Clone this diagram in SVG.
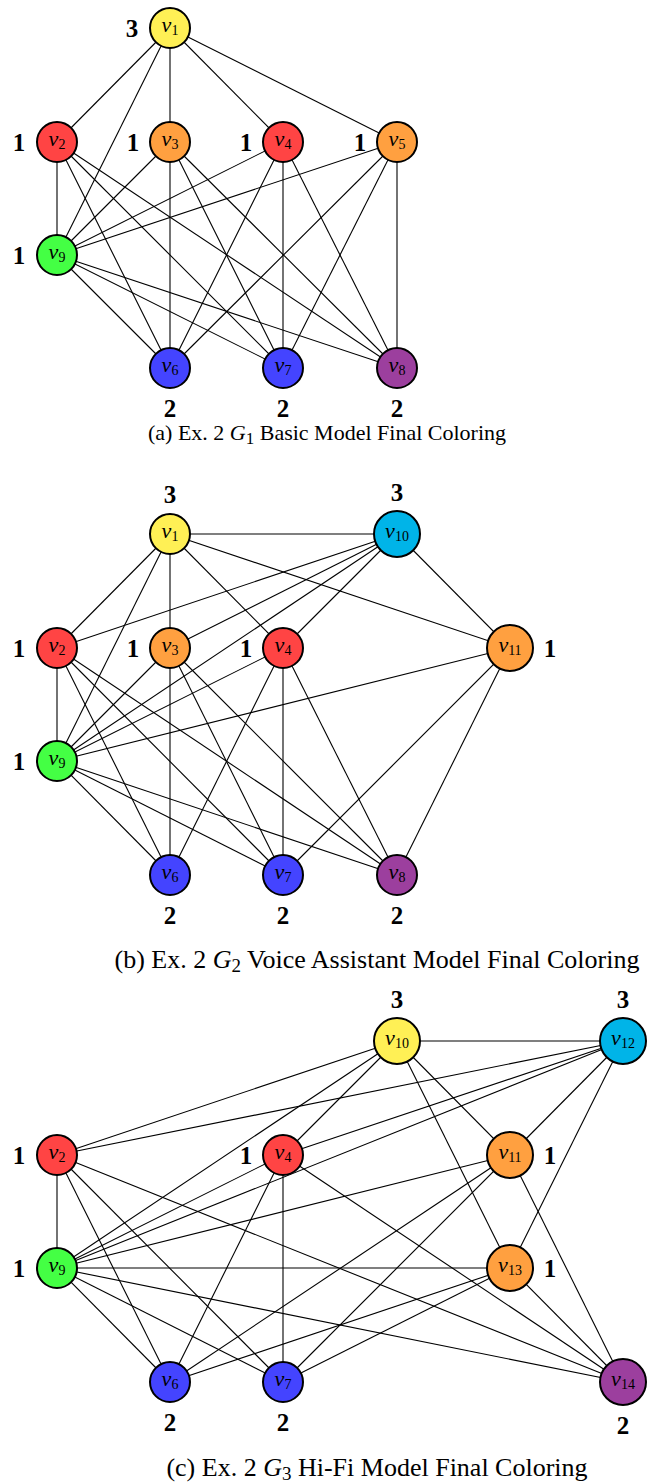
<svg xmlns="http://www.w3.org/2000/svg" width="654" height="1483" viewBox="0 0 654 1483">
<style>
text{font-family:'Liberation Serif','Times New Roman',Tinos,Times,serif}
.e{stroke:#000;stroke-width:1.1;fill:none}
.n{stroke:#000;stroke-width:2}
.nl{font-size:22px;text-anchor:middle;fill:#000}
.v{font-style:italic}
.s{font-size:14px}
.num{font-size:25px;font-weight:bold;text-anchor:middle;fill:#000}
.cap{font-size:22px;text-anchor:middle;fill:#000}
.cap2{font-size:26px;text-anchor:middle;fill:#000}
.cs{font-size:17px}
.cs2{font-size:19px}
.yel{fill:#FFF055}.red{fill:#FF4444}.ora{fill:#FFA040}.grn{fill:#44FF44}.blu{fill:#4444FF}.pur{fill:#9C3F9E}.cya{fill:#00B4E8}
</style>
<rect width="654" height="1483" fill="#fff"/>
<g id="edges-a">
<line class="e" x1="170" y1="28" x2="57" y2="142"/>
<line class="e" x1="170" y1="28" x2="57" y2="255"/>
<line class="e" x1="170" y1="28" x2="170" y2="142"/>
<line class="e" x1="170" y1="28" x2="283" y2="142"/>
<line class="e" x1="170" y1="28" x2="397" y2="142"/>
<line class="e" x1="57" y1="142" x2="57" y2="255"/>
<line class="e" x1="57" y1="142" x2="170" y2="368"/>
<line class="e" x1="57" y1="142" x2="283" y2="368"/>
<line class="e" x1="57" y1="142" x2="397" y2="368"/>
<line class="e" x1="170" y1="142" x2="57" y2="255"/>
<line class="e" x1="170" y1="142" x2="170" y2="368"/>
<line class="e" x1="170" y1="142" x2="283" y2="368"/>
<line class="e" x1="170" y1="142" x2="397" y2="368"/>
<line class="e" x1="283" y1="142" x2="57" y2="255"/>
<line class="e" x1="283" y1="142" x2="170" y2="368"/>
<line class="e" x1="283" y1="142" x2="283" y2="368"/>
<line class="e" x1="283" y1="142" x2="397" y2="368"/>
<line class="e" x1="397" y1="142" x2="57" y2="255"/>
<line class="e" x1="397" y1="142" x2="170" y2="368"/>
<line class="e" x1="397" y1="142" x2="283" y2="368"/>
<line class="e" x1="397" y1="142" x2="397" y2="368"/>
<line class="e" x1="57" y1="255" x2="170" y2="368"/>
<line class="e" x1="57" y1="255" x2="283" y2="368"/>
<line class="e" x1="57" y1="255" x2="397" y2="368"/>
</g>
<g id="a-v1"><circle class="n yel" cx="170" cy="28" r="20"/><text class="nl" x="170" y="32"><tspan class="v">v</tspan><tspan class="s" dy="3">1</tspan></text><text class="num" x="132" y="37">3</text></g>
<g id="a-v2"><circle class="n red" cx="57" cy="142" r="20"/><text class="nl" x="57" y="146"><tspan class="v">v</tspan><tspan class="s" dy="3">2</tspan></text><text class="num" x="19" y="151">1</text></g>
<g id="a-v3"><circle class="n ora" cx="170" cy="142" r="20"/><text class="nl" x="170" y="146"><tspan class="v">v</tspan><tspan class="s" dy="3">3</tspan></text><text class="num" x="133" y="151">1</text></g>
<g id="a-v4"><circle class="n red" cx="283" cy="142" r="20"/><text class="nl" x="283" y="146"><tspan class="v">v</tspan><tspan class="s" dy="3">4</tspan></text><text class="num" x="246" y="151">1</text></g>
<g id="a-v5"><circle class="n ora" cx="397" cy="142" r="20"/><text class="nl" x="397" y="146"><tspan class="v">v</tspan><tspan class="s" dy="3">5</tspan></text><text class="num" x="360" y="151">1</text></g>
<g id="a-v9"><circle class="n grn" cx="57" cy="255" r="20"/><text class="nl" x="57" y="259"><tspan class="v">v</tspan><tspan class="s" dy="3">9</tspan></text><text class="num" x="19" y="264">1</text></g>
<g id="a-v6"><circle class="n blu" cx="170" cy="368" r="20"/><text class="nl" x="170" y="372"><tspan class="v">v</tspan><tspan class="s" dy="3">6</tspan></text><text class="num" x="170" y="417">2</text></g>
<g id="a-v7"><circle class="n blu" cx="283" cy="368" r="20"/><text class="nl" x="283" y="372"><tspan class="v">v</tspan><tspan class="s" dy="3">7</tspan></text><text class="num" x="283" y="417">2</text></g>
<g id="a-v8"><circle class="n pur" cx="397" cy="368" r="20"/><text class="nl" x="397" y="372"><tspan class="v">v</tspan><tspan class="s" dy="3">8</tspan></text><text class="num" x="397" y="417">2</text></g>
<text class="cap" x="327" y="440">(a) Ex. 2 <tspan class="v">G</tspan><tspan class="cs" dy="4">1</tspan><tspan dy="-4"> Basic Model Final Coloring</tspan></text>

<g id="edges-b">
<line class="e" x1="170" y1="534" x2="397" y2="534"/>
<line class="e" x1="170" y1="534" x2="57" y2="648"/>
<line class="e" x1="170" y1="534" x2="57" y2="761"/>
<line class="e" x1="170" y1="534" x2="170" y2="648"/>
<line class="e" x1="170" y1="534" x2="283" y2="648"/>
<line class="e" x1="170" y1="534" x2="510" y2="648"/>
<line class="e" x1="397" y1="534" x2="57" y2="648"/>
<line class="e" x1="397" y1="534" x2="170" y2="648"/>
<line class="e" x1="397" y1="534" x2="57" y2="761"/>
<line class="e" x1="397" y1="534" x2="283" y2="648"/>
<line class="e" x1="397" y1="534" x2="510" y2="648"/>
<line class="e" x1="510" y1="648" x2="57" y2="761"/>
<line class="e" x1="510" y1="648" x2="283" y2="875"/>
<line class="e" x1="510" y1="648" x2="397" y2="875"/>
<line class="e" x1="57" y1="648" x2="57" y2="761"/>
<line class="e" x1="57" y1="648" x2="170" y2="875"/>
<line class="e" x1="57" y1="648" x2="283" y2="875"/>
<line class="e" x1="57" y1="648" x2="397" y2="875"/>
<line class="e" x1="170" y1="648" x2="57" y2="761"/>
<line class="e" x1="170" y1="648" x2="170" y2="875"/>
<line class="e" x1="170" y1="648" x2="283" y2="875"/>
<line class="e" x1="170" y1="648" x2="397" y2="875"/>
<line class="e" x1="283" y1="648" x2="57" y2="761"/>
<line class="e" x1="283" y1="648" x2="170" y2="875"/>
<line class="e" x1="283" y1="648" x2="283" y2="875"/>
<line class="e" x1="283" y1="648" x2="397" y2="875"/>
<line class="e" x1="57" y1="761" x2="170" y2="875"/>
<line class="e" x1="57" y1="761" x2="283" y2="875"/>
<line class="e" x1="57" y1="761" x2="397" y2="875"/>
</g>
<g id="b-v1"><circle class="n yel" cx="170" cy="534" r="20"/><text class="nl" x="170" y="538"><tspan class="v">v</tspan><tspan class="s" dy="3">1</tspan></text><text class="num" x="170" y="503">3</text></g>
<g id="b-v10"><circle class="n cya" cx="397" cy="534" r="23"/><text class="nl" x="397" y="538"><tspan class="v">v</tspan><tspan class="s" dy="3">10</tspan></text><text class="num" x="397" y="501">3</text></g>
<g id="b-v2"><circle class="n red" cx="57" cy="648" r="20"/><text class="nl" x="57" y="652"><tspan class="v">v</tspan><tspan class="s" dy="3">2</tspan></text><text class="num" x="19" y="657">1</text></g>
<g id="b-v3"><circle class="n ora" cx="170" cy="648" r="20"/><text class="nl" x="170" y="652"><tspan class="v">v</tspan><tspan class="s" dy="3">3</tspan></text><text class="num" x="133" y="657">1</text></g>
<g id="b-v4"><circle class="n red" cx="283" cy="648" r="20"/><text class="nl" x="283" y="652"><tspan class="v">v</tspan><tspan class="s" dy="3">4</tspan></text><text class="num" x="246" y="657">1</text></g>
<g id="b-v11"><circle class="n ora" cx="510" cy="648" r="23"/><text class="nl" x="510" y="652"><tspan class="v">v</tspan><tspan class="s" dy="3">11</tspan></text><text class="num" x="550" y="657">1</text></g>
<g id="b-v9"><circle class="n grn" cx="57" cy="761" r="20"/><text class="nl" x="57" y="765"><tspan class="v">v</tspan><tspan class="s" dy="3">9</tspan></text><text class="num" x="19" y="770">1</text></g>
<g id="b-v6"><circle class="n blu" cx="170" cy="875" r="20"/><text class="nl" x="170" y="879"><tspan class="v">v</tspan><tspan class="s" dy="3">6</tspan></text><text class="num" x="170" y="924">2</text></g>
<g id="b-v7"><circle class="n blu" cx="283" cy="875" r="20"/><text class="nl" x="283" y="879"><tspan class="v">v</tspan><tspan class="s" dy="3">7</tspan></text><text class="num" x="283" y="924">2</text></g>
<g id="b-v8"><circle class="n pur" cx="397" cy="875" r="20"/><text class="nl" x="397" y="879"><tspan class="v">v</tspan><tspan class="s" dy="3">8</tspan></text><text class="num" x="397" y="924">2</text></g>
<text class="cap2" x="377" y="968">(b) Ex. 2 <tspan class="v">G</tspan><tspan class="cs2" dy="4">2</tspan><tspan dy="-4"> Voice Assistant Model Final Coloring</tspan></text>

<g id="edges-c">
<line class="e" x1="397" y1="1041" x2="623" y2="1041"/>
<line class="e" x1="397" y1="1041" x2="57" y2="1155"/>
<line class="e" x1="397" y1="1041" x2="57" y2="1268"/>
<line class="e" x1="397" y1="1041" x2="283" y2="1155"/>
<line class="e" x1="397" y1="1041" x2="510" y2="1155"/>
<line class="e" x1="397" y1="1041" x2="510" y2="1268"/>
<line class="e" x1="623" y1="1041" x2="57" y2="1155"/>
<line class="e" x1="623" y1="1041" x2="283" y2="1155"/>
<line class="e" x1="623" y1="1041" x2="57" y2="1268"/>
<line class="e" x1="623" y1="1041" x2="510" y2="1155"/>
<line class="e" x1="623" y1="1041" x2="510" y2="1268"/>
<line class="e" x1="510" y1="1155" x2="57" y2="1268"/>
<line class="e" x1="510" y1="1155" x2="170" y2="1382"/>
<line class="e" x1="510" y1="1155" x2="283" y2="1382"/>
<line class="e" x1="510" y1="1155" x2="623" y2="1382"/>
<line class="e" x1="510" y1="1268" x2="57" y2="1268"/>
<line class="e" x1="510" y1="1268" x2="170" y2="1382"/>
<line class="e" x1="510" y1="1268" x2="283" y2="1382"/>
<line class="e" x1="510" y1="1268" x2="623" y2="1382"/>
<line class="e" x1="57" y1="1155" x2="57" y2="1268"/>
<line class="e" x1="57" y1="1155" x2="170" y2="1382"/>
<line class="e" x1="57" y1="1155" x2="283" y2="1382"/>
<line class="e" x1="57" y1="1155" x2="623" y2="1382"/>
<line class="e" x1="283" y1="1155" x2="57" y2="1268"/>
<line class="e" x1="283" y1="1155" x2="170" y2="1382"/>
<line class="e" x1="283" y1="1155" x2="283" y2="1382"/>
<line class="e" x1="283" y1="1155" x2="623" y2="1382"/>
<line class="e" x1="57" y1="1268" x2="170" y2="1382"/>
<line class="e" x1="57" y1="1268" x2="283" y2="1382"/>
<line class="e" x1="57" y1="1268" x2="623" y2="1382"/>
</g>
<g id="c-v10"><circle class="n yel" cx="397" cy="1041" r="23"/><text class="nl" x="397" y="1045"><tspan class="v">v</tspan><tspan class="s" dy="3">10</tspan></text><text class="num" x="397" y="1008">3</text></g>
<g id="c-v12"><circle class="n cya" cx="623" cy="1041" r="23"/><text class="nl" x="623" y="1045"><tspan class="v">v</tspan><tspan class="s" dy="3">12</tspan></text><text class="num" x="623" y="1008">3</text></g>
<g id="c-v2"><circle class="n red" cx="57" cy="1155" r="20"/><text class="nl" x="57" y="1159"><tspan class="v">v</tspan><tspan class="s" dy="3">2</tspan></text><text class="num" x="19" y="1164">1</text></g>
<g id="c-v4"><circle class="n red" cx="283" cy="1155" r="20"/><text class="nl" x="283" y="1159"><tspan class="v">v</tspan><tspan class="s" dy="3">4</tspan></text><text class="num" x="246" y="1164">1</text></g>
<g id="c-v11"><circle class="n ora" cx="510" cy="1155" r="23"/><text class="nl" x="510" y="1159"><tspan class="v">v</tspan><tspan class="s" dy="3">11</tspan></text><text class="num" x="550" y="1164">1</text></g>
<g id="c-v9"><circle class="n grn" cx="57" cy="1268" r="20"/><text class="nl" x="57" y="1272"><tspan class="v">v</tspan><tspan class="s" dy="3">9</tspan></text><text class="num" x="19" y="1277">1</text></g>
<g id="c-v13"><circle class="n ora" cx="510" cy="1268" r="23"/><text class="nl" x="510" y="1272"><tspan class="v">v</tspan><tspan class="s" dy="3">13</tspan></text><text class="num" x="550" y="1277">1</text></g>
<g id="c-v6"><circle class="n blu" cx="170" cy="1382" r="20"/><text class="nl" x="170" y="1386"><tspan class="v">v</tspan><tspan class="s" dy="3">6</tspan></text><text class="num" x="170" y="1431">2</text></g>
<g id="c-v7"><circle class="n blu" cx="283" cy="1382" r="20"/><text class="nl" x="283" y="1386"><tspan class="v">v</tspan><tspan class="s" dy="3">7</tspan></text><text class="num" x="283" y="1431">2</text></g>
<g id="c-v14"><circle class="n pur" cx="623" cy="1382" r="23"/><text class="nl" x="623" y="1386"><tspan class="v">v</tspan><tspan class="s" dy="3">14</tspan></text><text class="num" x="623" y="1434">2</text></g>
<text class="cap2" x="377" y="1476">(c) Ex. 2 <tspan class="v">G</tspan><tspan class="cs2" dy="4">3</tspan><tspan dy="-4"> Hi-Fi Model Final Coloring</tspan></text>
</svg>
